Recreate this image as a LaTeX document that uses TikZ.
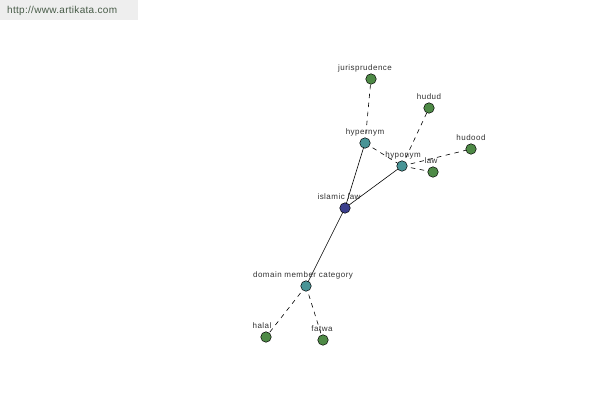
\documentclass[tikz,border=0pt]{standalone}
\usepackage{fontspec}
\setmainfont{Liberation Sans}
\newfontfamily\labfont[LetterSpace=6]{Liberation Sans}
\newfontfamily\wmfont[LetterSpace=3]{Liberation Sans}
\definecolor{leafc}{RGB}{78,138,70}
\definecolor{midc}{RGB}{72,148,150}
\definecolor{rootc}{RGB}{58,62,140}
\definecolor{wmbg}{RGB}{238,238,238}
\definecolor{wmtx}{RGB}{70,90,70}
\definecolor{lbl}{RGB}{50,50,50}
\begin{document}
\begin{tikzpicture}[x=1pt,y=-1pt,
  dot/.style={circle,draw=black,line width=0.5pt,minimum size=10.5pt,inner sep=0pt},
  leaf/.style={dot,fill=leafc},
  mid/.style={dot,fill=midc},
  root/.style={dot,fill=rootc},
  lab/.style={font=\labfont\fontsize{8}{9}\selectfont,text=lbl,inner sep=0pt},
  solidedge/.style={draw=black,line width=0.6pt},
  dashedge/.style={draw=black,line width=0.6pt,dash pattern=on 4.5pt off 4.5pt}]
\useasboundingbox (0,0) rectangle (600,400);
\fill[white] (0,0) rectangle (600,400);
\fill[wmbg] (0,0) rectangle (138,20);
\node[font=\wmfont\fontsize{10}{11}\selectfont,text=wmtx,anchor=west,inner sep=0pt] (wm) at (7,11) {http://www.artikata.com};
% edges drawn first
\coordinate (pil) at (345,208);
\coordinate (phyper) at (365,143);
\coordinate (phypo) at (402,166);
\coordinate (pdom) at (306,286);
\coordinate (pjur) at (371,79);
\coordinate (phudud) at (429,108);
\coordinate (phudood) at (471,149);
\coordinate (plaw) at (433,172);
\coordinate (phalal) at (266,337);
\coordinate (pfatwa) at (323,340);
\draw[solidedge] (pil) -- (phyper);
\draw[solidedge] (pil) -- (phypo);
\draw[solidedge] (pil) -- (pdom);
\draw[dashedge] (phyper) -- (pjur);
\draw[dashedge] (phyper) -- (phypo);
\draw[dashedge] (phypo) -- (phudud);
\draw[dashedge] (phypo) -- (phudood);
\draw[dashedge] (phypo) -- (plaw);
\draw[dashedge] (pdom) -- (phalal);
\draw[dashedge] (pdom) -- (pfatwa);
% nodes
\node[root] (il) at (pil) {};
\node[mid] (hyper) at (phyper) {};
\node[mid] (hypo) at (phypo) {};
\node[mid] (dom) at (pdom) {};
\node[leaf] (jur) at (pjur) {};
\node[leaf] (hudud) at (phudud) {};
\node[leaf] (hudood) at (phudood) {};
\node[leaf] (law) at (plaw) {};
\node[leaf] (halal) at (phalal) {};
\node[leaf] (fatwa) at (pfatwa) {};
% labels
\node[lab] (lil) at (339,197) {islamic law};
\node[lab] (lhyper) at (365,132) {hypernym};
\node[lab] (lhypo) at (403,155) {hyponym};
\node[lab] (ldom) at (303,275) {domain member category};
\node[lab] (ljur) at (365,68) {jurisprudence};
\node[lab] (lhudud) at (429,97) {hudud};
\node[lab] (lhudood) at (471,138) {hudood};
\node[lab] (llaw) at (431,161) {law};
\node[lab] (lhalal) at (262,326) {halal};
\node[lab] (lfatwa) at (322,329) {fatwa};
\end{tikzpicture}
\end{document}
